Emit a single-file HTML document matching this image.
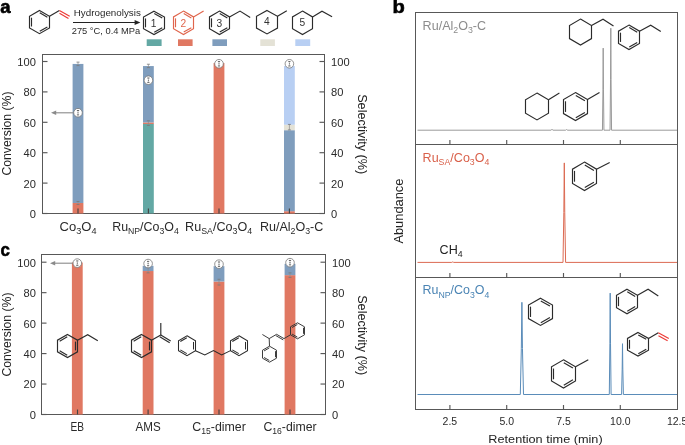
<!DOCTYPE html><html><head><meta charset="utf-8"><style>html,body{margin:0;padding:0;background:#fff;overflow:hidden;}svg{display:block;will-change:transform;}text{font-family:"Liberation Sans", sans-serif;}</style></head><body>
<svg width="685" height="445" viewBox="0 0 685 445">
<rect width="685" height="445" fill="#fff"/>
<text x="0.3" y="12.6" font-size="18.5" fill="#000" text-anchor="start" font-weight="bold" stroke="#000" stroke-width="0.6">a</text>
<text x="392.6" y="12.6" font-size="18.5" fill="#000" text-anchor="start" font-weight="bold" stroke="#000" stroke-width="0.6" textLength="12.3" lengthAdjust="spacingAndGlyphs">b</text>
<text x="0.4" y="255.8" font-size="18.5" fill="#000" text-anchor="start" font-weight="bold" stroke="#000" stroke-width="0.6" textLength="9.4" lengthAdjust="spacingAndGlyphs">c</text>
<polygon points="39.5,10.5 49.5,16.3 49.5,27.9 39.5,33.7 29.5,27.9 29.5,16.3" fill="none" stroke="#2b2b2b" stroke-width="1.15" stroke-linejoin="miter" />
<line x1="39.75" y1="12.86" x2="47.35" y2="17.26" stroke="#2b2b2b" stroke-width="1.15" />
<line x1="47.35" y1="26.94" x2="39.75" y2="31.34" stroke="#2b2b2b" stroke-width="1.15" />
<line x1="31.5" y1="26.51" x2="31.5" y2="17.69" stroke="#2b2b2b" stroke-width="1.15" />
<line x1="49.5" y1="16.3" x2="59.4" y2="10.4" stroke="#2b2b2b" stroke-width="1.15" />
<line x1="59.4" y1="10.4" x2="69.7" y2="16.3" stroke="#ec3a36" stroke-width="1.15" />
<line x1="59.5" y1="13.34" x2="68.46" y2="18.47" stroke="#ec3a36" stroke-width="1.15" />
<line x1="73" y1="22.5" x2="136" y2="22.5" stroke="#222" stroke-width="1.0" />
<polygon points="134.6,20.1 140.4,22.5 134.6,24.9" fill="#222" stroke="none" stroke-width="0" stroke-linejoin="miter" />
<text x="107.3" y="16.3" font-size="9.8" fill="#2a2a2a" text-anchor="middle" font-weight="normal" textLength="67" lengthAdjust="spacingAndGlyphs">Hydrogenolysis</text>
<text x="106" y="33.8" font-size="9.3" fill="#2a2a2a" text-anchor="middle" font-weight="normal" textLength="68.6" lengthAdjust="spacingAndGlyphs">275 °C, 0.4 MPa</text>
<polygon points="154,11.2 164.5,17.05 164.5,28.75 154,34.6 143.5,28.75 143.5,17.05" fill="none" stroke="#2b2b2b" stroke-width="1.15" stroke-linejoin="miter" />
<line x1="154.27" y1="13.56" x2="162.25" y2="18" stroke="#2b2b2b" stroke-width="1.15" />
<line x1="162.25" y1="27.8" x2="154.27" y2="32.24" stroke="#2b2b2b" stroke-width="1.15" />
<line x1="145.5" y1="27.35" x2="145.5" y2="18.45" stroke="#2b2b2b" stroke-width="1.15" />
<text x="153.6" y="26.6" font-size="10.2" fill="#333" text-anchor="middle" font-weight="normal" >1</text>
<polygon points="183.5,11.1 193.5,16.95 193.5,28.65 183.5,34.5 173.5,28.65 173.5,16.95" fill="none" stroke="#e0654c" stroke-width="1.15" stroke-linejoin="miter" />
<line x1="183.74" y1="13.48" x2="191.34" y2="17.93" stroke="#e0654c" stroke-width="1.15" />
<line x1="191.34" y1="27.67" x2="183.74" y2="32.12" stroke="#e0654c" stroke-width="1.15" />
<line x1="175.5" y1="27.25" x2="175.5" y2="18.35" stroke="#e0654c" stroke-width="1.15" />
<line x1="193.5" y1="16.95" x2="203.6" y2="11.1" stroke="#e0654c" stroke-width="1.15" />
<text x="183.3" y="26.5" font-size="10.2" fill="#e0654c" text-anchor="middle" font-weight="normal" >2</text>
<polygon points="219.5,11.1 229.5,16.95 229.5,28.65 219.5,34.5 209.5,28.65 209.5,16.95" fill="none" stroke="#2b2b2b" stroke-width="1.15" stroke-linejoin="miter" />
<line x1="219.74" y1="13.48" x2="227.34" y2="17.93" stroke="#2b2b2b" stroke-width="1.15" />
<line x1="227.34" y1="27.67" x2="219.74" y2="32.12" stroke="#2b2b2b" stroke-width="1.15" />
<line x1="211.5" y1="27.25" x2="211.5" y2="18.35" stroke="#2b2b2b" stroke-width="1.15" />
<polyline points="229.5,16.95 240,11.1 250.2,17.4" fill="none" stroke="#2b2b2b" stroke-width="1.15" stroke-linejoin="miter" />
<text x="219.4" y="26.5" font-size="10.2" fill="#333" text-anchor="middle" font-weight="normal" >3</text>
<polygon points="267,10.5 277.5,16.35 277.5,28.05 267,33.9 256.5,28.05 256.5,16.35" fill="none" stroke="#2b2b2b" stroke-width="1.15" stroke-linejoin="miter" />
<line x1="277.5" y1="16.35" x2="286.8" y2="10.8" stroke="#2b2b2b" stroke-width="1.15" />
<text x="266.8" y="24.9" font-size="10.2" fill="#333" text-anchor="middle" font-weight="normal" >4</text>
<polygon points="302.5,11.1 312.5,16.95 312.5,28.65 302.5,34.5 292.5,28.65 292.5,16.95" fill="none" stroke="#2b2b2b" stroke-width="1.15" stroke-linejoin="miter" />
<polyline points="312.5,16.95 322,11.2 332.1,16.8" fill="none" stroke="#2b2b2b" stroke-width="1.15" stroke-linejoin="miter" />
<text x="302.3" y="26.3" font-size="10.2" fill="#333" text-anchor="middle" font-weight="normal" >5</text>
<rect x="146.7" y="39.3" width="14.9" height="6.7" fill="#63a8a4"/>
<rect x="178" y="39.3" width="14.6" height="6.7" fill="#e07862"/>
<rect x="212.4" y="39.3" width="14.6" height="6.7" fill="#7f9dbd"/>
<rect x="260.3" y="39.3" width="14.6" height="6.7" fill="#e4e2d6"/>
<rect x="295.3" y="39.3" width="14.9" height="6.7" fill="#b8cff3"/>
<rect x="42.5" y="54.5" width="282" height="159" fill="none" stroke="#585858" stroke-width="1"/>
<rect x="72.6" y="203.01" width="10.8" height="10.49" fill="#e07862"/>
<rect x="72.6" y="63.93" width="10.8" height="139.08" fill="#7f9dbd"/>
<rect x="143" y="123.97" width="10.8" height="89.53" fill="#63a8a4"/>
<rect x="143" y="122.45" width="10.8" height="1.52" fill="#e07862"/>
<rect x="143" y="66.06" width="10.8" height="56.39" fill="#7f9dbd"/>
<rect x="213.6" y="63.02" width="10.8" height="150.48" fill="#e07862"/>
<rect x="284" y="211.22" width="10.8" height="2.28" fill="#e07862"/>
<rect x="284" y="130.2" width="10.8" height="81.02" fill="#7f9dbd"/>
<rect x="284" y="124.73" width="10.8" height="5.47" fill="#e4e2d6"/>
<rect x="284" y="66.06" width="10.8" height="58.67" fill="#b8cff3"/>
<line x1="42.5" y1="213.5" x2="47.5" y2="213.5" stroke="#585858" stroke-width="1.15" />
<line x1="324.5" y1="213.5" x2="319.5" y2="213.5" stroke="#585858" stroke-width="1.15" />
<text x="35.9" y="217.9" font-size="10.4" fill="#2a2a2a" text-anchor="end" font-weight="normal" textLength="6.19" lengthAdjust="spacingAndGlyphs">0</text>
<text x="331.1" y="217.9" font-size="10.4" fill="#2a2a2a" text-anchor="start" font-weight="normal" textLength="6.19" lengthAdjust="spacingAndGlyphs">0</text>
<line x1="42.5" y1="183.1" x2="47.5" y2="183.1" stroke="#585858" stroke-width="1.15" />
<line x1="324.5" y1="183.1" x2="319.5" y2="183.1" stroke="#585858" stroke-width="1.15" />
<text x="35.9" y="187.5" font-size="10.4" fill="#2a2a2a" text-anchor="end" font-weight="normal" textLength="12.37" lengthAdjust="spacingAndGlyphs">20</text>
<text x="331.1" y="187.5" font-size="10.4" fill="#2a2a2a" text-anchor="start" font-weight="normal" textLength="12.37" lengthAdjust="spacingAndGlyphs">20</text>
<line x1="42.5" y1="152.7" x2="47.5" y2="152.7" stroke="#585858" stroke-width="1.15" />
<line x1="324.5" y1="152.7" x2="319.5" y2="152.7" stroke="#585858" stroke-width="1.15" />
<text x="35.9" y="157.1" font-size="10.4" fill="#2a2a2a" text-anchor="end" font-weight="normal" textLength="12.37" lengthAdjust="spacingAndGlyphs">40</text>
<text x="331.1" y="157.1" font-size="10.4" fill="#2a2a2a" text-anchor="start" font-weight="normal" textLength="12.37" lengthAdjust="spacingAndGlyphs">40</text>
<line x1="42.5" y1="122.3" x2="47.5" y2="122.3" stroke="#585858" stroke-width="1.15" />
<line x1="324.5" y1="122.3" x2="319.5" y2="122.3" stroke="#585858" stroke-width="1.15" />
<text x="35.9" y="126.7" font-size="10.4" fill="#2a2a2a" text-anchor="end" font-weight="normal" textLength="12.37" lengthAdjust="spacingAndGlyphs">60</text>
<text x="331.1" y="126.7" font-size="10.4" fill="#2a2a2a" text-anchor="start" font-weight="normal" textLength="12.37" lengthAdjust="spacingAndGlyphs">60</text>
<line x1="42.5" y1="91.9" x2="47.5" y2="91.9" stroke="#585858" stroke-width="1.15" />
<line x1="324.5" y1="91.9" x2="319.5" y2="91.9" stroke="#585858" stroke-width="1.15" />
<text x="35.9" y="96.3" font-size="10.4" fill="#2a2a2a" text-anchor="end" font-weight="normal" textLength="12.37" lengthAdjust="spacingAndGlyphs">80</text>
<text x="331.1" y="96.3" font-size="10.4" fill="#2a2a2a" text-anchor="start" font-weight="normal" textLength="12.37" lengthAdjust="spacingAndGlyphs">80</text>
<line x1="42.5" y1="61.5" x2="47.5" y2="61.5" stroke="#585858" stroke-width="1.15" />
<line x1="324.5" y1="61.5" x2="319.5" y2="61.5" stroke="#585858" stroke-width="1.15" />
<text x="35.9" y="65.9" font-size="10.4" fill="#2a2a2a" text-anchor="end" font-weight="normal" textLength="18.56" lengthAdjust="spacingAndGlyphs">100</text>
<text x="331.1" y="65.9" font-size="10.4" fill="#2a2a2a" text-anchor="start" font-weight="normal" textLength="18.56" lengthAdjust="spacingAndGlyphs">100</text>
<line x1="78" y1="213.5" x2="78" y2="208.5" stroke="#444" stroke-width="1.15" />
<line x1="148.4" y1="213.5" x2="148.4" y2="208.5" stroke="#444" stroke-width="1.15" />
<line x1="219" y1="213.5" x2="219" y2="208.5" stroke="#444" stroke-width="1.15" />
<line x1="289.4" y1="213.5" x2="289.4" y2="208.5" stroke="#444" stroke-width="1.15" />
<line x1="78" y1="65.6" x2="78" y2="62.11" stroke="#8c8c8c" stroke-width="0.7" />
<line x1="76.5" y1="65.6" x2="79.5" y2="65.6" stroke="#7a7a7a" stroke-width="0.8" />
<line x1="76.5" y1="62.11" x2="79.5" y2="62.11" stroke="#7a7a7a" stroke-width="0.8" />
<line x1="78" y1="204.53" x2="78" y2="201.49" stroke="#8c8c8c" stroke-width="0.7" />
<line x1="76.5" y1="204.53" x2="79.5" y2="204.53" stroke="#7a7a7a" stroke-width="0.8" />
<line x1="76.5" y1="201.49" x2="79.5" y2="201.49" stroke="#7a7a7a" stroke-width="0.8" />
<circle cx="78" cy="112.72" r="4.3" fill="#fff" stroke="#777" stroke-width="0.8"/>
<line x1="78" y1="110.52" x2="78" y2="114.92" stroke="#aaa" stroke-width="0.6" />
<line x1="76.9" y1="110.52" x2="79.1" y2="110.52" stroke="#555" stroke-width="0.9" />
<line x1="76.9" y1="114.92" x2="79.1" y2="114.92" stroke="#555" stroke-width="0.9" />
<circle cx="78" cy="112.72" r="0.55" fill="#555"/>
<line x1="148.4" y1="67.58" x2="148.4" y2="64.24" stroke="#8c8c8c" stroke-width="0.7" />
<line x1="146.9" y1="67.58" x2="149.9" y2="67.58" stroke="#7a7a7a" stroke-width="0.8" />
<line x1="146.9" y1="64.24" x2="149.9" y2="64.24" stroke="#7a7a7a" stroke-width="0.8" />
<line x1="148.4" y1="125.49" x2="148.4" y2="120.78" stroke="#8c8c8c" stroke-width="0.7" />
<line x1="146.9" y1="125.49" x2="149.9" y2="125.49" stroke="#7a7a7a" stroke-width="0.8" />
<line x1="146.9" y1="120.78" x2="149.9" y2="120.78" stroke="#7a7a7a" stroke-width="0.8" />
<circle cx="148.4" cy="80.2" r="4.3" fill="#fff" stroke="#777" stroke-width="0.8"/>
<line x1="148.4" y1="78" x2="148.4" y2="82.4" stroke="#aaa" stroke-width="0.6" />
<line x1="147.3" y1="78" x2="149.5" y2="78" stroke="#555" stroke-width="0.9" />
<line x1="147.3" y1="82.4" x2="149.5" y2="82.4" stroke="#555" stroke-width="0.9" />
<circle cx="148.4" cy="80.2" r="0.55" fill="#555"/>
<circle cx="219" cy="63.78" r="4.3" fill="#fff" stroke="#777" stroke-width="0.8"/>
<line x1="219" y1="61.58" x2="219" y2="65.98" stroke="#aaa" stroke-width="0.6" />
<line x1="217.9" y1="61.58" x2="220.1" y2="61.58" stroke="#555" stroke-width="0.9" />
<line x1="217.9" y1="65.98" x2="220.1" y2="65.98" stroke="#555" stroke-width="0.9" />
<circle cx="219" cy="63.78" r="0.55" fill="#555"/>
<line x1="289.4" y1="129.9" x2="289.4" y2="124.43" stroke="#8c8c8c" stroke-width="0.7" />
<line x1="287.9" y1="129.9" x2="290.9" y2="129.9" stroke="#7a7a7a" stroke-width="0.8" />
<line x1="287.9" y1="124.43" x2="290.9" y2="124.43" stroke="#7a7a7a" stroke-width="0.8" />
<circle cx="289.4" cy="63.78" r="4.3" fill="#fff" stroke="#777" stroke-width="0.8"/>
<line x1="289.4" y1="61.58" x2="289.4" y2="65.98" stroke="#aaa" stroke-width="0.6" />
<line x1="288.3" y1="61.58" x2="290.5" y2="61.58" stroke="#555" stroke-width="0.9" />
<line x1="288.3" y1="65.98" x2="290.5" y2="65.98" stroke="#555" stroke-width="0.9" />
<circle cx="289.4" cy="63.78" r="0.55" fill="#555"/>
<line x1="73.6" y1="112.8" x2="55" y2="112.8" stroke="#8a8a8a" stroke-width="1.1" />
<polygon points="56.2,110.6 51,112.8 56.2,115" fill="#8a8a8a" stroke="none" stroke-width="0" stroke-linejoin="miter" />
<rect x="41.5" y="254.5" width="284" height="160" fill="none" stroke="#585858" stroke-width="1"/>
<rect x="71.9" y="262.5" width="10.8" height="152" fill="#e07862"/>
<rect x="142.7" y="271.03" width="10.8" height="143.47" fill="#e07862"/>
<rect x="142.7" y="265.86" width="10.8" height="5.18" fill="#7f9dbd"/>
<rect x="213.6" y="281.54" width="10.8" height="132.96" fill="#e07862"/>
<rect x="213.6" y="266.16" width="10.8" height="15.38" fill="#7f9dbd"/>
<rect x="284.6" y="275.15" width="10.8" height="139.35" fill="#e07862"/>
<rect x="284.6" y="263.88" width="10.8" height="11.27" fill="#7f9dbd"/>
<line x1="41.5" y1="414.5" x2="46.5" y2="414.5" stroke="#585858" stroke-width="1.15" />
<line x1="325.5" y1="414.5" x2="320.5" y2="414.5" stroke="#585858" stroke-width="1.15" />
<text x="35.9" y="418.9" font-size="10.4" fill="#2a2a2a" text-anchor="end" font-weight="normal" textLength="6.19" lengthAdjust="spacingAndGlyphs">0</text>
<text x="332.1" y="418.9" font-size="10.4" fill="#2a2a2a" text-anchor="start" font-weight="normal" textLength="6.19" lengthAdjust="spacingAndGlyphs">0</text>
<line x1="41.5" y1="384.04" x2="46.5" y2="384.04" stroke="#585858" stroke-width="1.15" />
<line x1="325.5" y1="384.04" x2="320.5" y2="384.04" stroke="#585858" stroke-width="1.15" />
<text x="35.9" y="388.44" font-size="10.4" fill="#2a2a2a" text-anchor="end" font-weight="normal" textLength="12.37" lengthAdjust="spacingAndGlyphs">20</text>
<text x="332.1" y="388.44" font-size="10.4" fill="#2a2a2a" text-anchor="start" font-weight="normal" textLength="12.37" lengthAdjust="spacingAndGlyphs">20</text>
<line x1="41.5" y1="353.58" x2="46.5" y2="353.58" stroke="#585858" stroke-width="1.15" />
<line x1="325.5" y1="353.58" x2="320.5" y2="353.58" stroke="#585858" stroke-width="1.15" />
<text x="35.9" y="357.98" font-size="10.4" fill="#2a2a2a" text-anchor="end" font-weight="normal" textLength="12.37" lengthAdjust="spacingAndGlyphs">40</text>
<text x="332.1" y="357.98" font-size="10.4" fill="#2a2a2a" text-anchor="start" font-weight="normal" textLength="12.37" lengthAdjust="spacingAndGlyphs">40</text>
<line x1="41.5" y1="323.12" x2="46.5" y2="323.12" stroke="#585858" stroke-width="1.15" />
<line x1="325.5" y1="323.12" x2="320.5" y2="323.12" stroke="#585858" stroke-width="1.15" />
<text x="35.9" y="327.52" font-size="10.4" fill="#2a2a2a" text-anchor="end" font-weight="normal" textLength="12.37" lengthAdjust="spacingAndGlyphs">60</text>
<text x="332.1" y="327.52" font-size="10.4" fill="#2a2a2a" text-anchor="start" font-weight="normal" textLength="12.37" lengthAdjust="spacingAndGlyphs">60</text>
<line x1="41.5" y1="292.66" x2="46.5" y2="292.66" stroke="#585858" stroke-width="1.15" />
<line x1="325.5" y1="292.66" x2="320.5" y2="292.66" stroke="#585858" stroke-width="1.15" />
<text x="35.9" y="297.06" font-size="10.4" fill="#2a2a2a" text-anchor="end" font-weight="normal" textLength="12.37" lengthAdjust="spacingAndGlyphs">80</text>
<text x="332.1" y="297.06" font-size="10.4" fill="#2a2a2a" text-anchor="start" font-weight="normal" textLength="12.37" lengthAdjust="spacingAndGlyphs">80</text>
<line x1="41.5" y1="262.2" x2="46.5" y2="262.2" stroke="#585858" stroke-width="1.15" />
<line x1="325.5" y1="262.2" x2="320.5" y2="262.2" stroke="#585858" stroke-width="1.15" />
<text x="35.9" y="266.6" font-size="10.4" fill="#2a2a2a" text-anchor="end" font-weight="normal" textLength="18.56" lengthAdjust="spacingAndGlyphs">100</text>
<text x="332.1" y="266.6" font-size="10.4" fill="#2a2a2a" text-anchor="start" font-weight="normal" textLength="18.56" lengthAdjust="spacingAndGlyphs">100</text>
<line x1="77.5" y1="414.5" x2="77.5" y2="409.5" stroke="#444" stroke-width="1.15" />
<line x1="148.1" y1="414.5" x2="148.1" y2="409.5" stroke="#444" stroke-width="1.15" />
<line x1="219" y1="414.5" x2="219" y2="409.5" stroke="#444" stroke-width="1.15" />
<line x1="290" y1="414.5" x2="290" y2="409.5" stroke="#444" stroke-width="1.15" />
<circle cx="77.3" cy="263.11" r="4.3" fill="#fff" stroke="#777" stroke-width="0.8"/>
<line x1="77.3" y1="260.91" x2="77.3" y2="265.31" stroke="#aaa" stroke-width="0.6" />
<line x1="76.2" y1="260.91" x2="78.4" y2="260.91" stroke="#555" stroke-width="0.9" />
<line x1="76.2" y1="265.31" x2="78.4" y2="265.31" stroke="#555" stroke-width="0.9" />
<circle cx="77.3" cy="263.11" r="0.55" fill="#555"/>
<line x1="148.1" y1="272.86" x2="148.1" y2="267.53" stroke="#8c8c8c" stroke-width="0.7" />
<line x1="146.6" y1="272.86" x2="149.6" y2="272.86" stroke="#7a7a7a" stroke-width="0.8" />
<line x1="146.6" y1="267.53" x2="149.6" y2="267.53" stroke="#7a7a7a" stroke-width="0.8" />
<circle cx="148.1" cy="263.57" r="4.3" fill="#fff" stroke="#777" stroke-width="0.8"/>
<line x1="148.1" y1="261.37" x2="148.1" y2="265.77" stroke="#aaa" stroke-width="0.6" />
<line x1="147" y1="261.37" x2="149.2" y2="261.37" stroke="#555" stroke-width="0.9" />
<line x1="147" y1="265.77" x2="149.2" y2="265.77" stroke="#555" stroke-width="0.9" />
<circle cx="148.1" cy="263.57" r="0.55" fill="#555"/>
<line x1="219" y1="285.04" x2="219" y2="279.26" stroke="#8c8c8c" stroke-width="0.7" />
<line x1="217.5" y1="285.04" x2="220.5" y2="285.04" stroke="#7a7a7a" stroke-width="0.8" />
<line x1="217.5" y1="279.26" x2="220.5" y2="279.26" stroke="#7a7a7a" stroke-width="0.8" />
<circle cx="219" cy="264.18" r="4.3" fill="#fff" stroke="#777" stroke-width="0.8"/>
<line x1="219" y1="261.98" x2="219" y2="266.38" stroke="#aaa" stroke-width="0.6" />
<line x1="217.9" y1="261.98" x2="220.1" y2="261.98" stroke="#555" stroke-width="0.9" />
<line x1="217.9" y1="266.38" x2="220.1" y2="266.38" stroke="#555" stroke-width="0.9" />
<circle cx="219" cy="264.18" r="0.55" fill="#555"/>
<line x1="290" y1="277.43" x2="290" y2="272.86" stroke="#8c8c8c" stroke-width="0.7" />
<line x1="288.5" y1="277.43" x2="291.5" y2="277.43" stroke="#7a7a7a" stroke-width="0.8" />
<line x1="288.5" y1="272.86" x2="291.5" y2="272.86" stroke="#7a7a7a" stroke-width="0.8" />
<circle cx="290" cy="262.66" r="4.3" fill="#fff" stroke="#777" stroke-width="0.8"/>
<line x1="290" y1="260.46" x2="290" y2="264.86" stroke="#aaa" stroke-width="0.6" />
<line x1="288.9" y1="260.46" x2="291.1" y2="260.46" stroke="#555" stroke-width="0.9" />
<line x1="288.9" y1="264.86" x2="291.1" y2="264.86" stroke="#555" stroke-width="0.9" />
<circle cx="290" cy="262.66" r="0.55" fill="#555"/>
<line x1="72.7" y1="263.2" x2="54" y2="263.2" stroke="#8a8a8a" stroke-width="1.1" />
<polygon points="55.2,261 50,263.2 55.2,265.4" fill="#8a8a8a" stroke="none" stroke-width="0" stroke-linejoin="miter" />
<text x="59.6" y="230.6" font-size="12.4" fill="#2a2a2a" text-anchor="start" textLength="37" lengthAdjust="spacingAndGlyphs"><tspan>Co</tspan><tspan font-size="8.68" dy="3.40">3</tspan><tspan dy="-3.40">O</tspan><tspan font-size="8.68" dy="3.40">4</tspan></text>
<text x="112.2" y="230.6" font-size="12.4" fill="#2a2a2a" text-anchor="start" textLength="66.6" lengthAdjust="spacingAndGlyphs"><tspan>Ru</tspan><tspan font-size="8.68" dy="3.40">NP</tspan><tspan dy="-3.40">/Co</tspan><tspan font-size="8.68" dy="3.40">3</tspan><tspan dy="-3.40">O</tspan><tspan font-size="8.68" dy="3.40">4</tspan></text>
<text x="185.1" y="230.6" font-size="12.4" fill="#2a2a2a" text-anchor="start" textLength="67" lengthAdjust="spacingAndGlyphs"><tspan>Ru</tspan><tspan font-size="8.68" dy="3.40">SA</tspan><tspan dy="-3.40">/Co</tspan><tspan font-size="8.68" dy="3.40">3</tspan><tspan dy="-3.40">O</tspan><tspan font-size="8.68" dy="3.40">4</tspan></text>
<text x="259.9" y="230.6" font-size="12.4" fill="#2a2a2a" text-anchor="start" textLength="63.4" lengthAdjust="spacingAndGlyphs"><tspan>Ru/Al</tspan><tspan font-size="8.68" dy="3.40">2</tspan><tspan dy="-3.40">O</tspan><tspan font-size="8.68" dy="3.40">3</tspan><tspan dy="-3.40">-C</tspan></text>
<text x="70.6" y="430.8" font-size="12.4" fill="#2a2a2a" text-anchor="start" textLength="13.5" lengthAdjust="spacingAndGlyphs"><tspan>EB</tspan></text>
<text x="135.6" y="430.8" font-size="12.4" fill="#2a2a2a" text-anchor="start" textLength="25.2" lengthAdjust="spacingAndGlyphs"><tspan>AMS</tspan></text>
<text x="192.2" y="430.8" font-size="12.4" fill="#2a2a2a" text-anchor="start" textLength="53.6" lengthAdjust="spacingAndGlyphs"><tspan>C</tspan><tspan font-size="8.68" dy="3.40">15</tspan><tspan dy="-3.40">-dimer</tspan></text>
<text x="263.4" y="430.8" font-size="12.4" fill="#2a2a2a" text-anchor="start" textLength="53.2" lengthAdjust="spacingAndGlyphs"><tspan>C</tspan><tspan font-size="8.68" dy="3.40">16</tspan><tspan dy="-3.40">-dimer</tspan></text>
<text x="0" y="0" font-size="12.4" fill="#222" text-anchor="middle" dominant-baseline="central" textLength="84" lengthAdjust="spacingAndGlyphs" transform="translate(6.6,133.5) rotate(-90)">Conversion (%)</text>
<text x="0" y="0" font-size="12.4" fill="#222" text-anchor="middle" dominant-baseline="central" textLength="80" lengthAdjust="spacingAndGlyphs" transform="translate(362.4,134.2) rotate(90)">Selectivity (%)</text>
<text x="0" y="0" font-size="12.4" fill="#222" text-anchor="middle" dominant-baseline="central" textLength="84" lengthAdjust="spacingAndGlyphs" transform="translate(6.6,334.5) rotate(-90)">Conversion (%)</text>
<text x="0" y="0" font-size="12.4" fill="#222" text-anchor="middle" dominant-baseline="central" textLength="80" lengthAdjust="spacingAndGlyphs" transform="translate(362.4,335.2) rotate(90)">Selectivity (%)</text>
<text x="0" y="0" font-size="12.0" fill="#222" text-anchor="middle" dominant-baseline="central" textLength="65" lengthAdjust="spacingAndGlyphs" transform="translate(399.2,211.1) rotate(-90)">Abundance</text>
<polygon points="67.5,334.4 77.5,340.2 77.5,351.8 67.5,357.6 57.5,351.8 57.5,340.2" fill="none" stroke="#2b2b2b" stroke-width="1.15" stroke-linejoin="miter" />
<line x1="59.65" y1="341.16" x2="67.25" y2="336.76" stroke="#2b2b2b" stroke-width="1.15" />
<line x1="75.5" y1="341.59" x2="75.5" y2="350.41" stroke="#2b2b2b" stroke-width="1.15" />
<line x1="67.25" y1="355.24" x2="59.65" y2="350.84" stroke="#2b2b2b" stroke-width="1.15" />
<polyline points="77.5,340.2 87.7,334.7 97.8,340.7" fill="none" stroke="#2b2b2b" stroke-width="1.15" stroke-linejoin="miter" />
<polygon points="141.5,334.4 151.5,340.2 151.5,351.8 141.5,357.6 131.5,351.8 131.5,340.2" fill="none" stroke="#2b2b2b" stroke-width="1.15" stroke-linejoin="miter" />
<line x1="133.65" y1="341.16" x2="141.25" y2="336.76" stroke="#2b2b2b" stroke-width="1.15" />
<line x1="149.5" y1="341.59" x2="149.5" y2="350.41" stroke="#2b2b2b" stroke-width="1.15" />
<line x1="141.25" y1="355.24" x2="133.65" y2="350.84" stroke="#2b2b2b" stroke-width="1.15" />
<line x1="151.5" y1="340.2" x2="160.8" y2="335.1" stroke="#2b2b2b" stroke-width="1.15" />
<line x1="160.8" y1="335.1" x2="160.8" y2="323" stroke="#2b2b2b" stroke-width="1.15" />
<line x1="160.8" y1="335.1" x2="170.7" y2="340.9" stroke="#2b2b2b" stroke-width="1.15" />
<line x1="159.79" y1="336.83" x2="169.69" y2="342.63" stroke="#2b2b2b" stroke-width="1.15" />
<polygon points="187,335.8 195.5,340.75 195.5,350.65 187,355.6 178.5,350.65 178.5,340.75" fill="none" stroke="#2b2b2b" stroke-width="1.05" stroke-linejoin="miter" />
<line x1="180.33" y1="341.57" x2="186.79" y2="337.81" stroke="#2b2b2b" stroke-width="1.05" />
<line x1="193.5" y1="341.94" x2="193.5" y2="349.46" stroke="#2b2b2b" stroke-width="1.05" />
<line x1="186.79" y1="353.59" x2="180.33" y2="349.83" stroke="#2b2b2b" stroke-width="1.05" />
<polygon points="239,335.8 247.5,340.75 247.5,350.65 239,355.6 230.5,350.65 230.5,340.75" fill="none" stroke="#2b2b2b" stroke-width="1.05" stroke-linejoin="miter" />
<line x1="232.33" y1="341.57" x2="238.79" y2="337.81" stroke="#2b2b2b" stroke-width="1.05" />
<line x1="245.5" y1="341.94" x2="245.5" y2="349.46" stroke="#2b2b2b" stroke-width="1.05" />
<line x1="238.79" y1="353.59" x2="232.33" y2="349.83" stroke="#2b2b2b" stroke-width="1.05" />
<polyline points="195.5,350.65 204.8,354.9 213.5,350.5 221.7,354.9 230.5,350.65" fill="none" stroke="#2b2b2b" stroke-width="1.05" stroke-linejoin="miter" />
<polygon points="297.5,322.8 304.5,326.8 304.5,334.8 297.5,338.8 290.5,334.8 290.5,326.8" fill="none" stroke="#333" stroke-width="0.95" stroke-linejoin="miter" />
<line x1="292.05" y1="327.53" x2="297.37" y2="324.49" stroke="#333" stroke-width="0.95" />
<line x1="303.5" y1="327.76" x2="303.5" y2="333.84" stroke="#333" stroke-width="0.95" />
<line x1="297.37" y1="337.11" x2="292.05" y2="334.07" stroke="#333" stroke-width="0.95" />
<polygon points="269.5,346.2 276.5,350.2 276.5,358.2 269.5,362.2 262.5,358.2 262.5,350.2" fill="none" stroke="#333" stroke-width="0.95" stroke-linejoin="miter" />
<line x1="264.05" y1="350.93" x2="269.37" y2="347.89" stroke="#333" stroke-width="0.95" />
<line x1="275.5" y1="351.16" x2="275.5" y2="357.24" stroke="#333" stroke-width="0.95" />
<line x1="269.37" y1="360.51" x2="264.05" y2="357.47" stroke="#333" stroke-width="0.95" />
<line x1="290.5" y1="334.8" x2="284" y2="338.6" stroke="#333" stroke-width="0.95" />
<line x1="284" y1="338.6" x2="276.6" y2="334.3" stroke="#333" stroke-width="0.95" />
<line x1="283.25" y1="339.9" x2="275.85" y2="335.6" stroke="#333" stroke-width="0.95" />
<polyline points="276.6,334.3 269.2,338.6 262.4,334.5" fill="none" stroke="#333" stroke-width="0.95" stroke-linejoin="miter" />
<line x1="269.2" y1="338.6" x2="269.5" y2="346.2" stroke="#333" stroke-width="0.95" />
<rect x="415.5" y="12.5" width="262" height="397" fill="none" stroke="#585858" stroke-width="1"/>
<line x1="415" y1="144.5" x2="678" y2="144.5" stroke="#585858" stroke-width="1.15" />
<line x1="415" y1="277.5" x2="678" y2="277.5" stroke="#585858" stroke-width="1.15" />
<line x1="449.9" y1="144.5" x2="449.9" y2="140" stroke="#585858" stroke-width="1.15" />
<line x1="506.7" y1="144.5" x2="506.7" y2="140" stroke="#585858" stroke-width="1.15" />
<line x1="563.5" y1="144.5" x2="563.5" y2="140" stroke="#585858" stroke-width="1.15" />
<line x1="620.3" y1="144.5" x2="620.3" y2="140" stroke="#585858" stroke-width="1.15" />
<line x1="449.9" y1="277.5" x2="449.9" y2="273" stroke="#585858" stroke-width="1.15" />
<line x1="506.7" y1="277.5" x2="506.7" y2="273" stroke="#585858" stroke-width="1.15" />
<line x1="563.5" y1="277.5" x2="563.5" y2="273" stroke="#585858" stroke-width="1.15" />
<line x1="620.3" y1="277.5" x2="620.3" y2="273" stroke="#585858" stroke-width="1.15" />
<line x1="449.9" y1="409.5" x2="449.9" y2="405" stroke="#585858" stroke-width="1.15" />
<line x1="506.7" y1="409.5" x2="506.7" y2="405" stroke="#585858" stroke-width="1.15" />
<line x1="563.5" y1="409.5" x2="563.5" y2="405" stroke="#585858" stroke-width="1.15" />
<line x1="620.3" y1="409.5" x2="620.3" y2="405" stroke="#585858" stroke-width="1.15" />
<text x="449.9" y="424.9" font-size="10.5" fill="#2a2a2a" text-anchor="middle" font-weight="normal" >2.5</text>
<text x="506.7" y="424.9" font-size="10.5" fill="#2a2a2a" text-anchor="middle" font-weight="normal" >5.0</text>
<text x="563.5" y="424.9" font-size="10.5" fill="#2a2a2a" text-anchor="middle" font-weight="normal" >7.5</text>
<text x="620.3" y="424.9" font-size="10.5" fill="#2a2a2a" text-anchor="middle" font-weight="normal" >10.0</text>
<text x="677.1" y="424.9" font-size="10.5" fill="#2a2a2a" text-anchor="middle" font-weight="normal" >12.5</text>
<text x="545.5" y="443" font-size="11.6" fill="#222" text-anchor="middle" font-weight="normal" textLength="114.3" lengthAdjust="spacingAndGlyphs">Retention time (min)</text>
<polyline points="417.5,130.2 551,130.2 551.65,129.7 552,129.2 552.35,129.7 553,130.2 565.6,130.2 566.25,129.8 566.6,129.4 566.95,129.8 567.6,130.2 602.45,130.2 602.94,89.15 603.2,48.1 603.46,89.15 603.95,130.2 610.05,130.2 610.54,79.2 610.8,28.2 611.06,79.2 611.55,130.2 677,130.2" fill="none" stroke="#9a9a9a" stroke-width="1.0" stroke-linejoin="round"/>
<polyline points="417.5,262.4 451.8,262.4 452.45,262.1 452.8,261.8 453.15,262.1 453.8,262.4 563,262.4 563.84,212.65 564.3,162.9 564.75,212.65 565.6,262.4 677,262.4" fill="none" stroke="#dc6a52" stroke-width="1.0" stroke-linejoin="round"/>
<polyline points="417.5,394.5 520.3,394.5 521.34,348.4 521.9,302.3 522.46,348.4 523.5,394.5 609.3,394.5 609.88,343.8 610.2,293.1 610.52,343.8 611.1,394.5 621.6,394.5 622.18,369.1 622.5,343.7 622.82,369.1 623.4,394.5 677,394.5" fill="none" stroke="#5a8cb9" stroke-width="1.0" stroke-linejoin="round"/>
<text x="422.6" y="30" font-size="12.4" fill="#8c8c8c" text-anchor="start" textLength="63.5" lengthAdjust="spacingAndGlyphs"><tspan>Ru/Al</tspan><tspan font-size="8.68" dy="3.40">2</tspan><tspan dy="-3.40">O</tspan><tspan font-size="8.68" dy="3.40">3</tspan><tspan dy="-3.40">-C</tspan></text>
<text x="422.6" y="161.7" font-size="12.4" fill="#d9604a" text-anchor="start" textLength="66.8" lengthAdjust="spacingAndGlyphs"><tspan>Ru</tspan><tspan font-size="8.68" dy="3.40">SA</tspan><tspan dy="-3.40">/Co</tspan><tspan font-size="8.68" dy="3.40">3</tspan><tspan dy="-3.40">O</tspan><tspan font-size="8.68" dy="3.40">4</tspan></text>
<text x="422.6" y="294.3" font-size="12.4" fill="#4a84b4" text-anchor="start" textLength="66.8" lengthAdjust="spacingAndGlyphs"><tspan>Ru</tspan><tspan font-size="8.68" dy="3.40">NP</tspan><tspan dy="-3.40">/Co</tspan><tspan font-size="8.68" dy="3.40">3</tspan><tspan dy="-3.40">O</tspan><tspan font-size="8.68" dy="3.40">4</tspan></text>
<text x="439.6" y="253.9" font-size="12.2" fill="#222" text-anchor="start" textLength="23" lengthAdjust="spacingAndGlyphs"><tspan>CH</tspan><tspan font-size="8.54" dy="3.40">4</tspan></text>
<polygon points="580.5,19.1 591.5,25.6 591.5,38.6 580.5,45.1 569.5,38.6 569.5,25.6" fill="none" stroke="#2b2b2b" stroke-width="1.15" stroke-linejoin="miter" />
<polyline points="591.5,25.6 603,19.2 613.5,26.1" fill="none" stroke="#2b2b2b" stroke-width="1.15" stroke-linejoin="miter" />
<polygon points="629,25.1 639.5,31.2 639.5,43.4 629,49.5 618.5,43.4 618.5,31.2" fill="none" stroke="#2b2b2b" stroke-width="1.15" stroke-linejoin="miter" />
<line x1="629.26" y1="27.58" x2="637.24" y2="32.21" stroke="#2b2b2b" stroke-width="1.15" />
<line x1="637.24" y1="42.39" x2="629.26" y2="47.02" stroke="#2b2b2b" stroke-width="1.15" />
<line x1="620.5" y1="41.94" x2="620.5" y2="32.66" stroke="#2b2b2b" stroke-width="1.15" />
<polyline points="639.5,31.2 650.7,25.2 660.8,31.6" fill="none" stroke="#2b2b2b" stroke-width="1.15" stroke-linejoin="miter" />
<polygon points="537,93.1 548.5,99.8 548.5,113.2 537,119.9 525.5,113.2 525.5,99.8" fill="none" stroke="#2b2b2b" stroke-width="1.15" stroke-linejoin="miter" />
<line x1="548.5" y1="99.8" x2="559.4" y2="93.1" stroke="#2b2b2b" stroke-width="1.15" />
<polygon points="575.5,92.6 587.5,99.6 587.5,113.6 575.5,120.6 563.5,113.6 563.5,99.6" fill="none" stroke="#2b2b2b" stroke-width="1.15" stroke-linejoin="miter" />
<line x1="575.79" y1="95.45" x2="584.91" y2="100.77" stroke="#2b2b2b" stroke-width="1.15" />
<line x1="584.91" y1="112.43" x2="575.79" y2="117.75" stroke="#2b2b2b" stroke-width="1.15" />
<line x1="565.5" y1="111.92" x2="565.5" y2="101.28" stroke="#2b2b2b" stroke-width="1.15" />
<line x1="587.5" y1="99.6" x2="599.5" y2="92.5" stroke="#2b2b2b" stroke-width="1.15" />
<polygon points="584.5,162.1 596.5,169.2 596.5,183.4 584.5,190.5 572.5,183.4 572.5,169.2" fill="none" stroke="#2b2b2b" stroke-width="1.15" stroke-linejoin="miter" />
<line x1="584.79" y1="164.99" x2="593.91" y2="170.39" stroke="#2b2b2b" stroke-width="1.15" />
<line x1="593.91" y1="182.21" x2="584.79" y2="187.61" stroke="#2b2b2b" stroke-width="1.15" />
<line x1="574.5" y1="181.7" x2="574.5" y2="170.9" stroke="#2b2b2b" stroke-width="1.15" />
<line x1="596.5" y1="169.2" x2="609.7" y2="162.4" stroke="#2b2b2b" stroke-width="1.15" />
<polygon points="540.5,298.2 552.5,305 552.5,318.6 540.5,325.4 528.5,318.6 528.5,305" fill="none" stroke="#2b2b2b" stroke-width="1.15" stroke-linejoin="miter" />
<line x1="540.8" y1="300.95" x2="549.92" y2="306.12" stroke="#2b2b2b" stroke-width="1.15" />
<line x1="549.92" y1="317.48" x2="540.8" y2="322.65" stroke="#2b2b2b" stroke-width="1.15" />
<line x1="530.5" y1="316.97" x2="530.5" y2="306.63" stroke="#2b2b2b" stroke-width="1.15" />
<polygon points="627,289.2 637.5,295.35 637.5,307.65 627,313.8 616.5,307.65 616.5,295.35" fill="none" stroke="#2b2b2b" stroke-width="1.15" stroke-linejoin="miter" />
<line x1="627.26" y1="291.7" x2="635.24" y2="296.38" stroke="#2b2b2b" stroke-width="1.15" />
<line x1="635.24" y1="306.62" x2="627.26" y2="311.3" stroke="#2b2b2b" stroke-width="1.15" />
<line x1="618.5" y1="306.17" x2="618.5" y2="296.83" stroke="#2b2b2b" stroke-width="1.15" />
<polyline points="637.5,295.35 648.1,289.2 658.3,296" fill="none" stroke="#2b2b2b" stroke-width="1.15" stroke-linejoin="miter" />
<polygon points="638,332.5 648.5,338.4 648.5,350.2 638,356.1 627.5,350.2 627.5,338.4" fill="none" stroke="#2b2b2b" stroke-width="1.15" stroke-linejoin="miter" />
<line x1="638.27" y1="334.88" x2="646.25" y2="339.37" stroke="#2b2b2b" stroke-width="1.15" />
<line x1="646.25" y1="349.23" x2="638.27" y2="353.72" stroke="#2b2b2b" stroke-width="1.15" />
<line x1="629.5" y1="348.78" x2="629.5" y2="339.82" stroke="#2b2b2b" stroke-width="1.15" />
<line x1="648.5" y1="338.4" x2="658.3" y2="332.7" stroke="#2b2b2b" stroke-width="1.15" />
<line x1="658.3" y1="332.7" x2="668.8" y2="338.5" stroke="#ec3a36" stroke-width="1.15" />
<line x1="658.46" y1="335.64" x2="667.59" y2="340.69" stroke="#ec3a36" stroke-width="1.15" />
<polygon points="563.5,359.8 575.5,366.85 575.5,380.95 563.5,388 551.5,380.95 551.5,366.85" fill="none" stroke="#2b2b2b" stroke-width="1.15" stroke-linejoin="miter" />
<line x1="563.79" y1="362.67" x2="572.91" y2="368.03" stroke="#2b2b2b" stroke-width="1.15" />
<line x1="572.91" y1="379.77" x2="563.79" y2="385.13" stroke="#2b2b2b" stroke-width="1.15" />
<line x1="553.5" y1="379.26" x2="553.5" y2="368.54" stroke="#2b2b2b" stroke-width="1.15" />
<line x1="575.5" y1="366.85" x2="588.3" y2="359.8" stroke="#2b2b2b" stroke-width="1.15" />
</svg></body></html>
